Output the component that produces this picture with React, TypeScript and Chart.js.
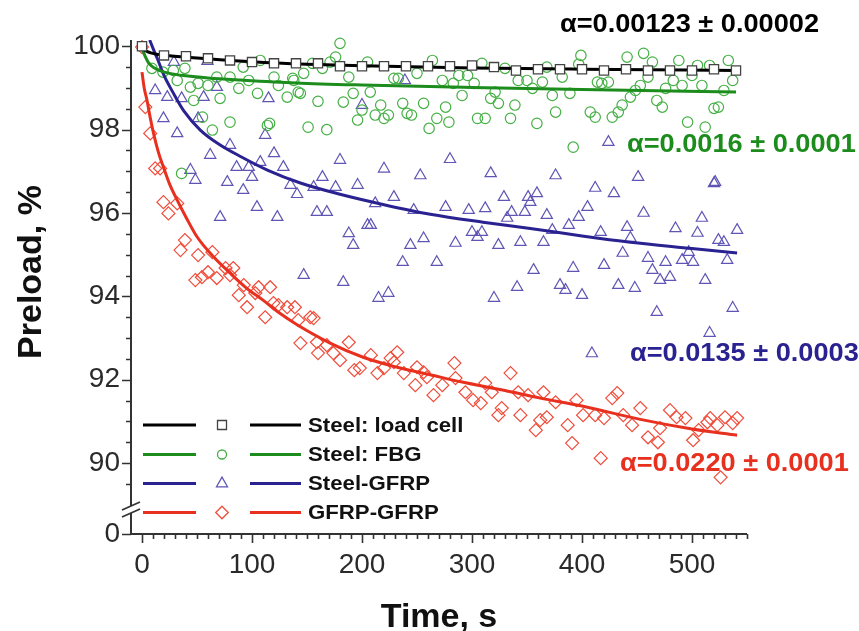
import React, { useEffect, useRef } from 'react';
import { Chart, registerables } from 'chart.js';

Chart.register(...registerables);

const FONT = "'Liberation Sans', Arial, Helvetica, sans-serif";

// ---------- axis ticks ----------
const xTickValues = [0, 100, 200, 300, 400, 500];
const yTickValues = [88.3, 90, 92, 94, 96, 98, 100];
const yTickLabels = ['0', '90', '92', '94', '96', '98', '100'];

// ---------- series names / annotations ----------
const seriesNames = ['Steel: load cell', 'Steel: FBG', 'Steel-GFRP', 'GFRP-GFRP'];
const alphaLabels = ['α=0.00123 ± 0.00002', 'α=0.0016 ± 0.0001', 'α=0.0135 ± 0.0003', 'α=0.0220 ± 0.0001'];

// ---------- Steel: load cell (squares) ----------
const loadCellT = [0, 20, 40, 60, 80, 100, 120, 140, 160, 180, 200, 220, 240, 260, 280, 300, 320, 340, 360, 380, 400, 420, 440, 460, 480, 500, 520, 540];
const loadCellV = [100, 99.78, 99.76, 99.71, 99.66, 99.62, 99.59, 99.59, 99.59, 99.52, 99.52, 99.52, 99.52, 99.52, 99.52, 99.54, 99.5, 99.42, 99.45, 99.45, 99.45, 99.42, 99.45, 99.42, 99.42, 99.42, 99.45, 99.42];

// ---------- Steel: FBG (circles) ----------
const fbgPoints: [number, number][] = [
  [9, 99.47], [19, 99.38], [28.5, 99.42], [32, 99.18], [39, 99.47], [44, 99.02], [47, 98.7], [51, 99.11], [60, 99.06],
  [71, 98.75], [68, 99.26], [80, 99.26], [88, 98.99], [92, 99.5], [97, 99.18], [105, 98.87], [107.5, 99.66], [120, 99.26],
  [124, 99.06], [132, 98.78], [138, 99.18], [142, 98.9], [55, 98.3], [64, 97.99], [80, 98.18], [114, 98.1], [116, 98.15],
  [36, 96.95],
  [180, 100.07], [176, 99.74], [171, 99.62], [164, 99.47], [155, 99.59], [147, 99.35], [137, 99.23], [144, 98.87],
  [160, 98.68], [151, 98.06], [168, 98.0], [183, 98.66], [188, 99.26], [192, 98.87], [196, 98.23], [200, 98.47],
  [205, 99.62], [207.5, 98.9], [212, 98.35], [217, 98.59], [220, 98.27], [224, 98.35], [229, 99.23], [233, 99.23],
  [237, 98.63], [241, 98.39], [245, 98.35], [250, 99.35], [256, 98.63], [261, 98.03], [264, 99.66], [268, 98.27],
  [273, 99.18], [276, 98.54], [279, 98.18], [283, 99.11], [288, 99.3], [291, 98.82], [296, 99.3], [302, 99.11],
  [305, 98.27], [309, 99.59], [312, 98.27], [317, 98.75], [321, 98.9], [324, 98.63], [330, 99.47], [335, 98.27],
  [339, 98.59], [342, 99.18], [350, 99.18], [355, 98.99], [359, 98.15], [364, 99.14], [368, 99.5], [373, 98.82],
  [376, 98.42], [382, 99.26], [389, 98.87], [392, 97.58], [397, 99.57], [399, 99.78],
  [407.5, 98.42], [412, 98.3], [414, 99.14], [418, 99.11], [424, 99.14], [427.5, 98.3], [433, 98.42], [436.5, 98.59],
  [441, 99.74], [444, 98.78], [448.5, 98.94], [453, 99.06], [456, 99.83], [460, 99.26], [464, 99.62], [468, 98.7],
  [473, 98.54], [476, 98.99], [483, 99.18], [488, 99.66], [491, 99.06], [496, 98.18], [500, 99.3], [505, 99.54],
  [509, 99.06], [512, 98.06], [516, 99.54], [520, 98.51], [524, 98.54], [529, 98.94], [533, 99.66], [537, 99.18],
];

// ---------- Steel-GFRP (triangles) ----------
const steelGfrpPoints: [number, number][] = [
  [29, 99.62], [59.5, 99.64], [12, 98.94], [23, 98.78], [36, 98.75], [56, 98.78], [68, 99.02], [115, 98.75],
  [19.5, 98.27], [32, 97.91], [51, 98.27], [112, 97.87], [80, 97.63], [62, 97.39], [120, 97.43], [44, 97.03],
  [48.5, 96.79], [77.5, 96.74], [86, 97.1], [92, 96.55], [100, 96.86], [97, 97.1], [107.5, 97.22], [128.5, 97.1],
  [135, 96.67], [141, 96.45], [104.5, 96.14], [71, 95.9], [123, 95.9],
  [239, 99.18], [200, 98.59], [180, 97.27], [220, 97.06], [164, 96.86], [253, 96.9], [280, 97.29], [317, 96.95],
  [376, 96.9], [156, 96.62], [176, 96.62], [196, 96.67], [229, 96.38], [329, 96.38], [351, 96.38], [359, 96.47],
  [424, 97.7], [451, 96.86], [412, 96.6], [429, 96.47], [521, 96.74],
  [159, 96.02], [168, 96.02], [205, 95.71], [208, 95.71], [188, 95.51], [192, 95.23], [212, 96.23], [247, 96.07],
  [256, 95.39], [244, 95.23], [237, 94.82], [147, 94.51], [183, 94.34], [215, 93.96], [224, 94.08],
  [268, 94.82], [285, 95.28], [276, 96.14], [297, 96.07], [300, 95.54], [305, 95.42], [309, 95.54], [312, 96.11],
  [324, 95.23], [332, 95.88], [336, 96.02], [344, 95.3], [348, 96.02], [353, 96.26], [365, 95.3], [368, 95.95],
  [373, 95.59], [388, 95.71], [397, 95.9], [405, 96.14], [417, 95.54], [437, 95.04], [441, 95.66], [444, 95.4],
  [456, 96.0], [460, 94.92], [464, 94.63], [471, 94.39], [476, 94.82], [480, 94.46], [485, 95.63], [491, 94.87],
  [497, 95.06], [501, 94.82], [505, 95.52], [509, 95.88], [512, 94.39], [520, 96.71], [524, 95.35], [529, 95.3],
  [532, 94.87], [541, 95.59], [356, 94.63], [341, 94.22], [320, 93.96], [380, 94.27], [385, 94.15], [392, 94.68],
  [400, 94.03], [420, 94.75], [433, 94.27], [448, 94.2], [468, 93.62], [537, 93.72], [516, 93.12], [409, 92.63],
];

// ---------- GFRP-GFRP (diamonds) ----------
const gfrpGfrpPoints: [number, number][] = [
  [0, 99.98], [3, 98.54], [7.5, 97.91], [12, 97.07], [16.5, 97.07], [19.5, 96.26], [24, 95.99], [32, 96.23],
  [39, 95.35], [35, 95.11], [51, 94.99], [64, 95.06], [48.5, 94.39], [54.5, 94.46], [60, 94.58], [68, 94.44],
  [76, 94.68], [83, 94.68], [80, 94.51], [88, 94.03], [92.5, 94.27], [95.5, 93.74], [103, 94.08], [106, 94.22],
  [112, 93.5], [116.5, 94.22], [119.5, 93.84], [124, 93.79], [132, 93.74], [139, 93.74], [142, 93.43], [153, 93.5],
  [156, 93.48], [144, 92.88], [159, 92.9], [168, 92.83], [180, 92.47], [188, 92.9], [174, 92.64], [193, 92.23],
  [208, 92.59], [214, 92.16], [220, 92.28], [232, 92.66], [229, 92.42], [238, 92.16], [250, 92.3], [256, 92.18],
  [259, 92.06], [160, 92.64], [198, 92.28], [226, 92.52], [248.5, 91.87], [265, 91.63], [273, 91.87], [284, 92.4],
  [285, 92.04], [294, 91.7], [301, 91.51], [308, 91.44], [312, 91.92], [318, 91.7], [324, 91.15], [327, 91.32],
  [335, 92.16], [342, 91.7], [344, 91.15], [351, 91.63], [358, 90.79], [362, 91.03], [365, 91.7], [368, 91.1],
  [376, 91.46], [387, 90.91], [391, 90.48], [395, 91.51], [401, 91.15], [412, 91.15], [417, 90.12], [420, 91.08],
  [427.5, 91.56], [432, 91.68], [437.5, 91.15], [445.5, 90.91], [453, 91.32], [460, 90.62], [469, 90.5], [471, 90.84],
  [480, 91.27], [486, 91.1], [494, 91.08], [501, 90.55], [506, 90.79], [514, 90.98], [516.5, 91.08], [523, 90.91],
  [530, 91.1], [537, 90.96], [541, 91.08], [526, 89.66],
];

// ---------- fitted curves ----------
const fitLoadCellT = [0, 3, 8, 15, 25, 40, 60, 100, 150, 200, 300, 400, 540];
const fitLoadCellV = [99.98, 99.9, 99.84, 99.8, 99.77, 99.74, 99.7, 99.63, 99.57, 99.53, 99.48, 99.45, 99.42];
const fitFbgT = [0, 3, 6, 10, 15, 25, 40, 60, 90, 140, 200, 300, 400, 540];
const fitFbgV = [99.95, 99.75, 99.6, 99.5, 99.43, 99.35, 99.29, 99.24, 99.19, 99.12, 99.07, 99.01, 98.96, 98.9];
const fitSteelGfrpT = [7, 10, 14, 20, 28, 38, 53, 70, 90, 114, 144, 180, 220, 262, 310, 353, 400, 444, 500, 541];
const fitSteelGfrpV = [100.15, 99.95, 99.7, 99.3, 98.9, 98.45, 97.99, 97.65, 97.35, 97.03, 96.72, 96.45, 96.2, 95.97, 95.78, 95.63, 95.45, 95.3, 95.15, 95.04];
const fitGfrpGfrpT = [0, 2, 4.5, 7, 10.5, 15, 19.5, 25, 32, 40, 50, 65, 80, 95, 110, 125, 141, 171, 201, 232, 262, 290, 330, 362, 400, 453, 500, 541];
const fitGfrpGfrpV = [99.38, 99.0, 98.71, 98.35, 97.91, 97.45, 97.1, 96.7, 96.31, 95.9, 95.43, 94.95, 94.56, 94.2, 93.91, 93.6, 93.32, 92.88, 92.54, 92.3, 92.12, 91.95, 91.74, 91.56, 91.37, 91.05, 90.82, 90.67];

// ---------- colours ----------
const lineColors = ['#000000', '#1c8c1c', '#2a2290', '#e8301f'];
const markerColors = ['#444444', '#45b045', '#5f55b5', '#f04c3a'];

const toXY = (t: number[], v: number[]) => t.map((tt, i) => ({ x: tt, y: v[i] }));
const pairsToXY = (p: [number, number][]) => p.map(([x, y]) => ({ x, y }));

function drawMarker(ctx: CanvasRenderingContext2D, kind: number, cx: number, cy: number, s: number) {
  ctx.beginPath();
  if (kind === 0) {
    ctx.rect(cx - s, cy - s, 2 * s, 2 * s);
    ctx.fillStyle = '#fff';
    ctx.fill();
  } else if (kind === 1) {
    ctx.arc(cx, cy, s, 0, Math.PI * 2);
  } else if (kind === 2) {
    ctx.moveTo(cx, cy - s * 1.15);
    ctx.lineTo(cx + s * 1.0, cy + s * 0.6);
    ctx.lineTo(cx - s * 1.0, cy + s * 0.6);
    ctx.closePath();
  } else {
    ctx.moveTo(cx, cy - s * 1.25);
    ctx.lineTo(cx + s * 1.25, cy);
    ctx.lineTo(cx, cy + s * 1.25);
    ctx.lineTo(cx - s * 1.25, cy);
    ctx.closePath();
  }
  ctx.stroke();
}

function stretchedText(ctx: CanvasRenderingContext2D, text: string, x: number, y: number, sx: number) {
  ctx.save();
  ctx.translate(x, y);
  ctx.scale(sx, 1);
  ctx.fillText(text, 0, 0);
  ctx.restore();
}

const decorPlugin = {
  id: 'decor',
  afterDraw(chart: any) {
    const { ctx, chartArea: a, scales } = chart;
    const x = scales.x;
    const y = scales.y;
    ctx.save();
    // axes
    ctx.strokeStyle = '#333';
    ctx.lineWidth = 2;
    ctx.beginPath();
    ctx.moveTo(a.left, a.top);
    ctx.lineTo(a.left, a.bottom + 1);
    ctx.moveTo(a.left - 1, a.bottom);
    ctx.lineTo(a.right, a.bottom);
    ctx.stroke();

    // y ticks
    ctx.lineWidth = 1.6;
    ctx.beginPath();
    yTickValues.forEach((v) => {
      const p = Math.round(y.getPixelForValue(v)) + 0.5;
      ctx.moveTo(a.left - 9, p);
      ctx.lineTo(a.left, p);
    });
    for (let v = 89.5; v < 100; v += 0.5) {
      if (Math.abs(v - Math.round(v)) < 0.01 && Math.round(v) % 2 === 0) continue;
      const p = Math.round(y.getPixelForValue(v)) + 0.5;
      ctx.moveTo(a.left - 5, p);
      ctx.lineTo(a.left, p);
    }
    // x ticks
    xTickValues.forEach((v) => {
      const p = Math.round(x.getPixelForValue(v)) + 0.5;
      ctx.moveTo(p, a.bottom);
      ctx.lineTo(p, a.bottom + 9);
    });
    for (let v = 10; v <= 550; v += 10) {
      if (v % 100 === 0) continue;
      const p = Math.round(x.getPixelForValue(v)) + 0.5;
      ctx.moveTo(p, a.bottom);
      ctx.lineTo(p, a.bottom + 5);
    }
    ctx.stroke();

    // axis break
    ctx.fillStyle = '#fff';
    ctx.fillRect(a.left - 3, 506, 6, 7);
    ctx.strokeStyle = '#333';
    ctx.lineWidth = 1.8;
    ctx.beginPath();
    ctx.moveTo(a.left - 9, 510);
    ctx.lineTo(a.left + 9, 502);
    ctx.moveTo(a.left - 9, 517);
    ctx.lineTo(a.left + 9, 509);
    ctx.stroke();

    // legend
    const rows = [425, 454.5, 483.5, 512.5];
    const mSizes = [4.5, 4.5, 5.5, 5];
    rows.forEach((ry, i) => {
      ctx.strokeStyle = lineColors[i];
      ctx.lineWidth = 3;
      ctx.beginPath();
      ctx.moveTo(143, ry);
      ctx.lineTo(196, ry);
      ctx.moveTo(250, ry);
      ctx.lineTo(301, ry);
      ctx.stroke();
      ctx.strokeStyle = markerColors[i];
      ctx.lineWidth = 1.3;
      drawMarker(ctx, i, 222, ry, mSizes[i]);
      ctx.fillStyle = '#111';
      ctx.font = `bold 20px ${FONT}`;
      ctx.textAlign = 'left';
      ctx.textBaseline = 'middle';
      stretchedText(ctx, seriesNames[i], 308, ry + 1, 1.11);
    });

    // alpha annotations
    const ann = [
      [560, 24],
      [627, 144],
      [630, 353],
      [620, 463],
    ];
    ctx.font = `bold 26px ${FONT}`;
    ctx.textAlign = 'left';
    ctx.textBaseline = 'middle';
    ann.forEach(([ax, ay], i) => {
      ctx.fillStyle = lineColors[i];
      stretchedText(ctx, alphaLabels[i], ax, ay + 1, 1.045);
    });

    // axis titles
    ctx.fillStyle = '#111';
    ctx.font = `bold 34px ${FONT}`;
    ctx.textAlign = 'center';
    ctx.textBaseline = 'alphabetic';
    ctx.fillText('Time, s', (a.left + a.right) / 2, 627);
    ctx.save();
    ctx.translate(41, 272);
    ctx.rotate(-Math.PI / 2);
    ctx.fillText('Preload, %', 0, 0);
    ctx.restore();

    ctx.restore();
  },
};

export default function App() {
  const ref = useRef<HTMLCanvasElement | null>(null);

  useEffect(() => {
    if (!ref.current) return;
    const lineDs = (t: number[], v: number[], color: string) => ({
      type: 'line' as const,
      data: toXY(t, v),
      borderColor: color,
      backgroundColor: color,
      borderWidth: 3,
      pointRadius: 0,
      showLine: true,
      fill: false,
      cubicInterpolationMode: 'monotone' as const,
      clip: false as const,
    });
    const chart = new Chart(ref.current, {
      type: 'scatter',
      data: {
        datasets: [
          {
            data: toXY(loadCellT, loadCellV),
            pointStyle: 'rect',
            pointRadius: 6.5,
            borderColor: markerColors[0],
            backgroundColor: '#ffffff',
            borderWidth: 1.3,
            clip: false,
          } as any,
          lineDs(fitLoadCellT, fitLoadCellV, lineColors[0]),
          lineDs(fitFbgT, fitFbgV, lineColors[1]),
          { ...lineDs(fitSteelGfrpT, fitSteelGfrpV, lineColors[2]), clip: { left: false, right: false, top: 0, bottom: false } },
          lineDs(fitGfrpGfrpT, fitGfrpGfrpV, lineColors[3]),
          {
            data: pairsToXY(fbgPoints),
            pointStyle: 'circle',
            pointRadius: 5.2,
            borderColor: markerColors[1],
            backgroundColor: 'rgba(0,0,0,0)',
            borderWidth: 1.2,
            clip: false,
          } as any,
          {
            data: pairsToXY(steelGfrpPoints),
            pointStyle: 'triangle',
            pointRadius: 6.5,
            borderColor: markerColors[2],
            backgroundColor: 'rgba(0,0,0,0)',
            borderWidth: 1.2,
            clip: false,
          } as any,
          {
            data: pairsToXY(gfrpGfrpPoints),
            pointStyle: 'rectRot',
            pointRadius: 6.5,
            borderColor: markerColors[3],
            backgroundColor: 'rgba(0,0,0,0)',
            borderWidth: 1.2,
            clip: false,
          } as any,
        ],
      },
      options: {
        animation: false,
        responsive: false,
        events: [],
        layout: { padding: { top: 40, right: 112, left: 0, bottom: 0 } },
        plugins: { legend: { display: false }, tooltip: { enabled: false } },
        scales: {
          x: {
            type: 'linear',
            min: -10,
            max: 550,
            grid: { display: false, drawTicks: false },
            border: { display: false },
            ticks: { padding: 14, color: '#2a2a2a', font: { family: FONT, size: 28 }, autoSkip: false, maxRotation: 0 },
            afterBuildTicks: (s: any) => {
              s.ticks = xTickValues.map((v) => ({ value: v }));
            },
            afterFit: (s: any) => {
              s.height = 97;
            },
          },
          y: {
            type: 'linear',
            min: 88.3,
            max: 100.15,
            grid: { display: false, drawTicks: false },
            border: { display: false },
            ticks: {
              padding: 11,
              color: '#2a2a2a',
              font: { family: FONT, size: 28 },
              autoSkip: false,
              callback: (_v: any, i: number) => yTickLabels[i],
            },
            afterBuildTicks: (s: any) => {
              s.ticks = yTickValues.map((v) => ({ value: v }));
            },
            afterFit: (s: any) => {
              s.width = 131;
            },
          },
        },
      } as any,
      plugins: [decorPlugin],
    });
    return () => chart.destroy();
  }, []);

  return (
    <div style={{ position: 'fixed', left: 0, top: 0, width: 859, height: 631, background: '#fff' }}>
      <canvas ref={ref} width={859} height={631} style={{ width: 859, height: 631, display: 'block' }} />
    </div>
  );
}
